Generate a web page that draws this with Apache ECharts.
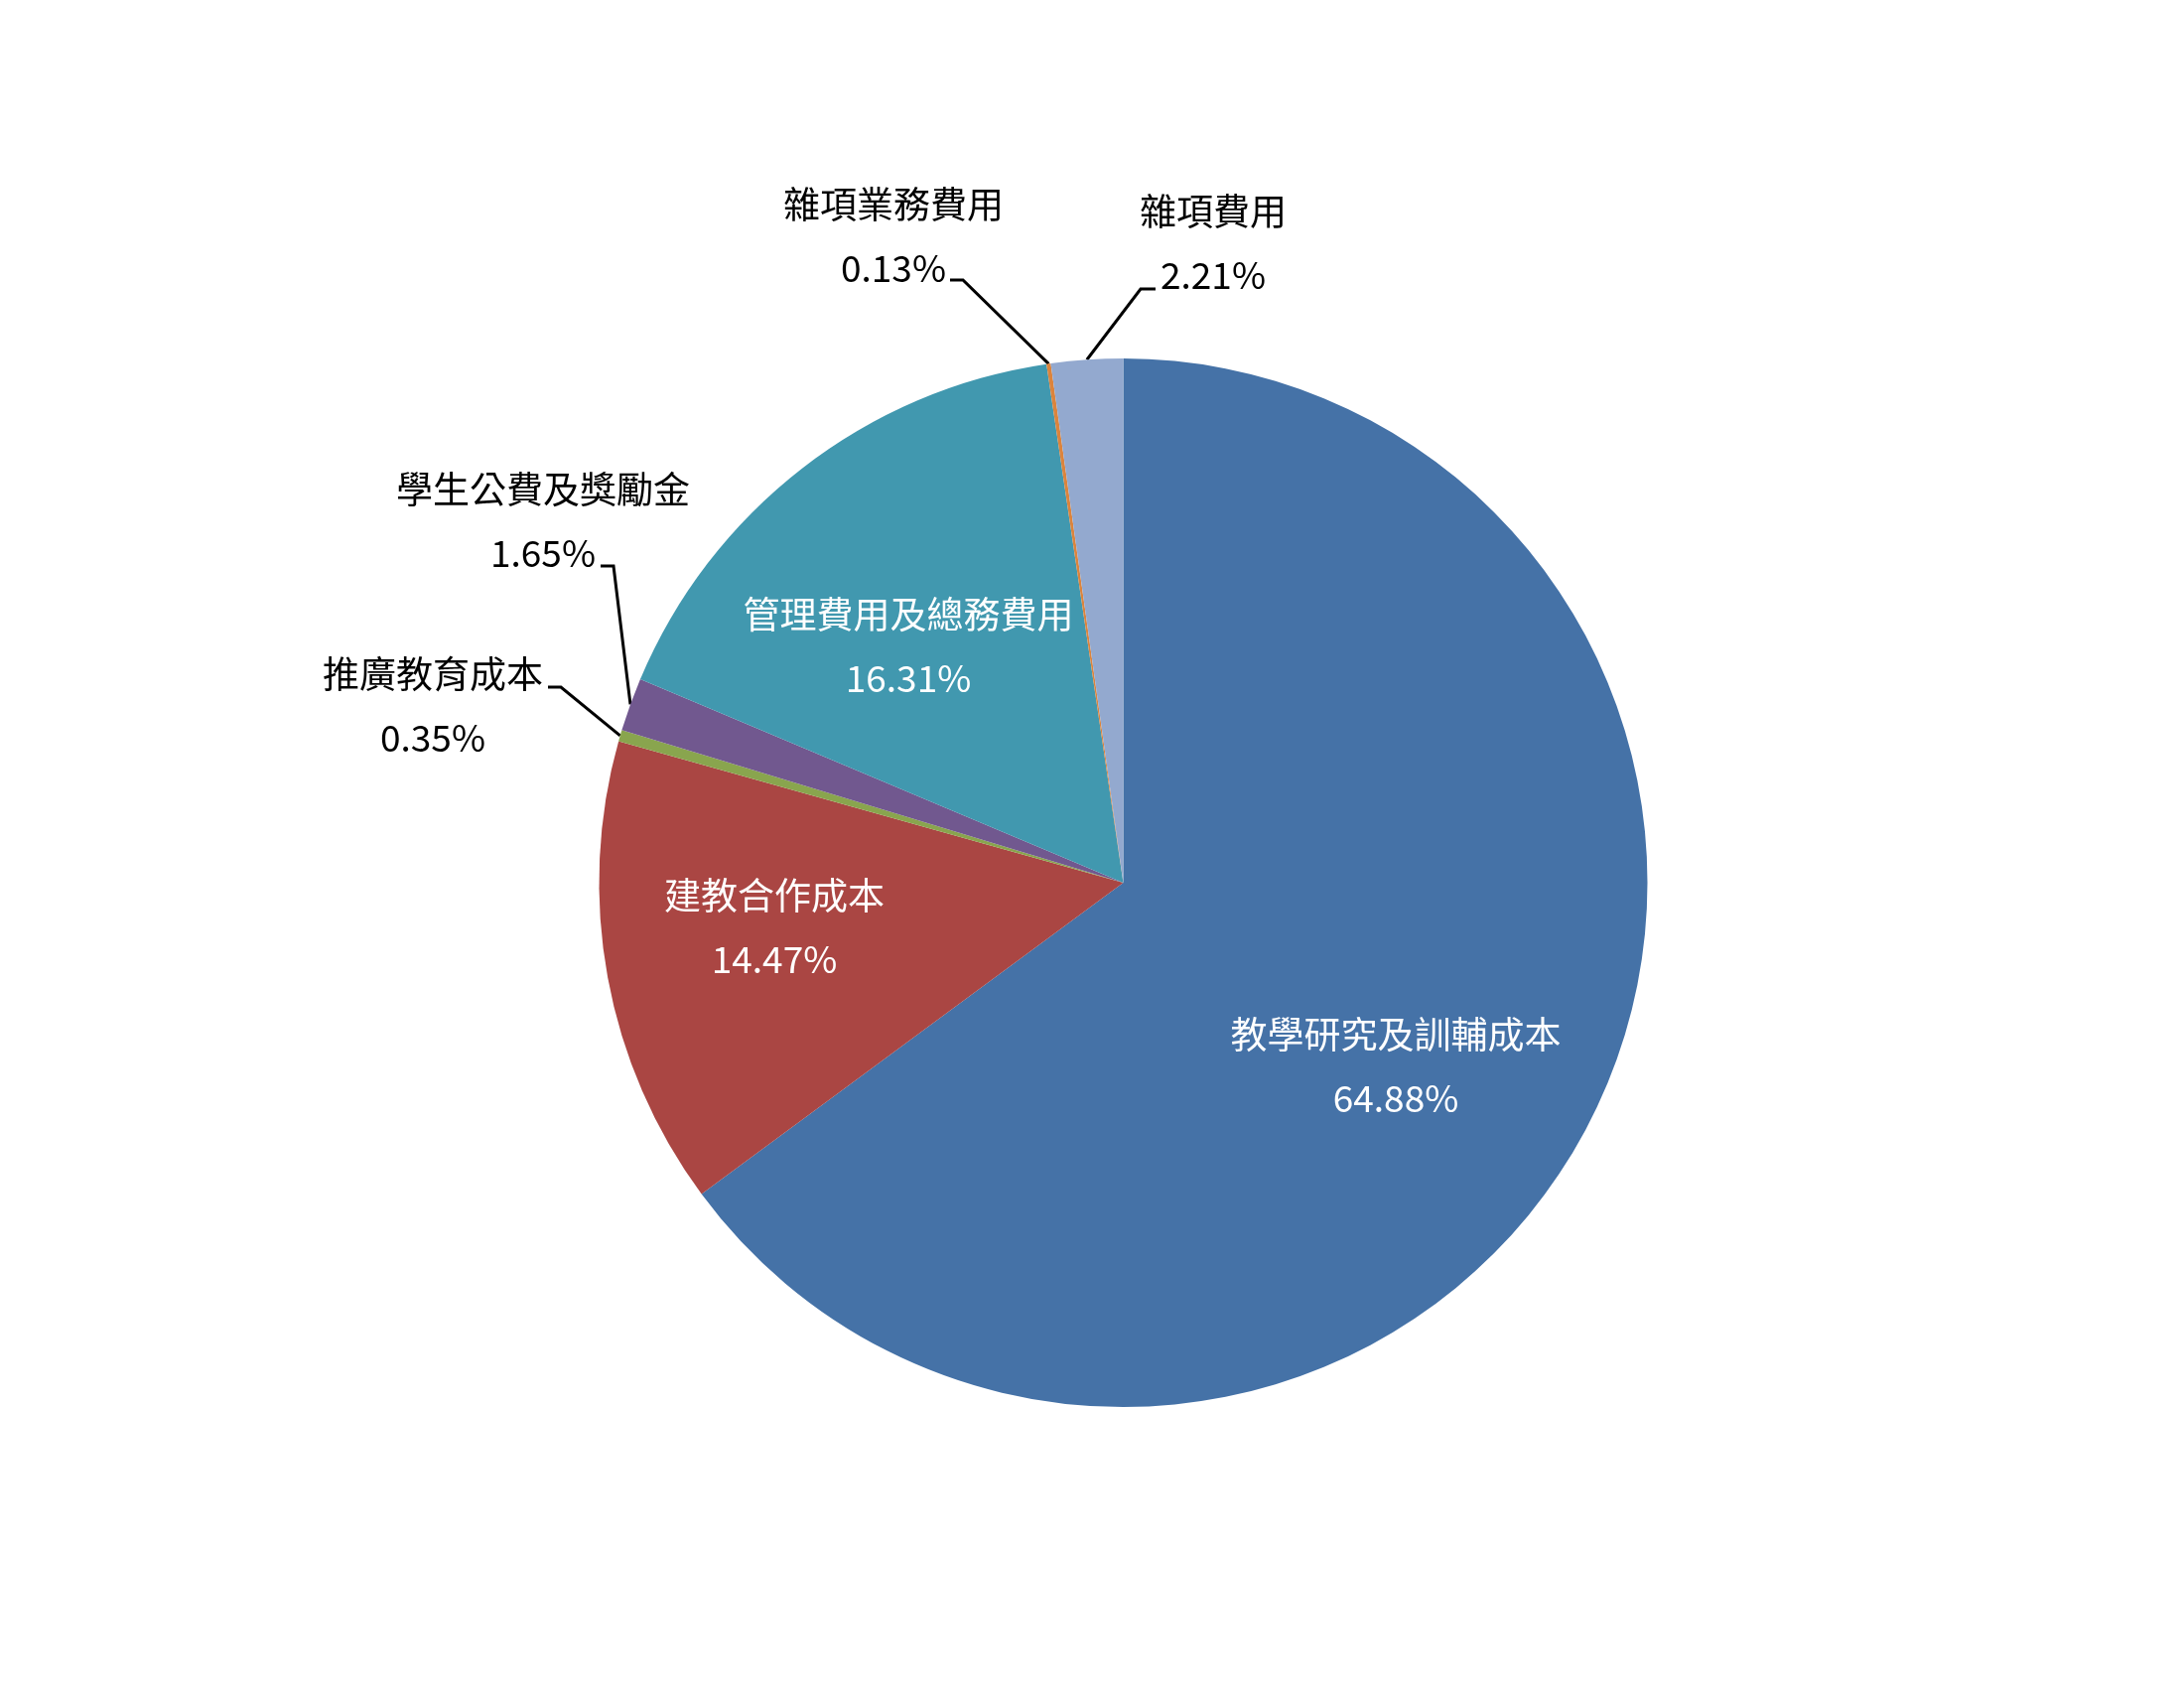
<!DOCTYPE html>
<html>
<head>
<meta charset="utf-8">
<script src="https://cdn.jsdelivr.net/npm/echarts@6/dist/echarts.min.js"></script>
<style>
html,body{margin:0;padding:0;background:#fff;}
#chart{width:2200px;height:1700px;}
</style>
</head>
<body>
<div id="chart"></div>
<script>
// ---- data ----
const categories = ['教學研究及訓輔成本', '建教合作成本', '推廣教育成本', '學生公費及獎勵金', '管理費用及總務費用', '雜項業務費用', '雜項費用'];
const values = [64.88, 14.47, 0.35, 1.65, 16.31, 0.13, 2.21];
const colors = ['#4572A7', '#AA4643', '#89A54E', '#71588F', '#4198AF', '#DB843D', '#93A9CF'];
const insideLabels = [true, true, false, false, true, false, false];

// ---- label layout (positions of label text and leader bends) ----
const labelPos = [
  { x: 1406, y: 1074 },
  { x: 780, y: 934 },
  { x: 436, y: 711, line: [[565, 692], [552, 692]] },
  { x: 547, y: 525, line: [[618, 570], [605, 570]] },
  { x: 915, y: 651 },
  { x: 900, y: 238, line: [[970, 282], [957, 282]] },
  { x: 1222, y: 245, line: [[1149, 291], [1164, 291]] }
];

const FONT = '"Noto Sans CJK TC", "Noto Sans", sans-serif';

const chart = echarts.init(document.getElementById('chart'));
const data = categories.map((name, i) => ({
  name: name,
  value: values[i],
  itemStyle: { color: colors[i] },
  label: insideLabels[i]
    ? { position: 'inside', color: '#ffffff' }
    : { position: 'outside', color: '#000000' },
  labelLine: { show: !insideLabels[i] }
}));

chart.setOption({
  backgroundColor: '#ffffff',
  animation: false,
  series: [{
    type: 'pie',
    center: [1131.5, 889],
    radius: 528,
    startAngle: 90,
    clockwise: true,
    avoidLabelOverlap: false,
    emphasis: { disabled: true },
    itemStyle: { borderWidth: 0 },
    label: {
      show: true,
      formatter: '{b}\n{d}%',
      fontFamily: FONT,
      fontSize: 37,
      lineHeight: 64,
      align: 'center'
    },
    labelLine: {
      show: true,
      length: 20,
      length2: 10,
      lineStyle: { color: '#000000', width: 3 }
    },
    labelLayout: function (p) {
      const L = labelPos[p.dataIndex];
      const out = { x: L.x, y: L.y, align: 'center', verticalAlign: 'middle' };
      if (L.line && p.labelLinePoints) {
        out.labelLinePoints = [p.labelLinePoints[0], L.line[0], L.line[1]];
      }
      return out;
    },
    data: data
  }]
});
</script>
</body>
</html>
